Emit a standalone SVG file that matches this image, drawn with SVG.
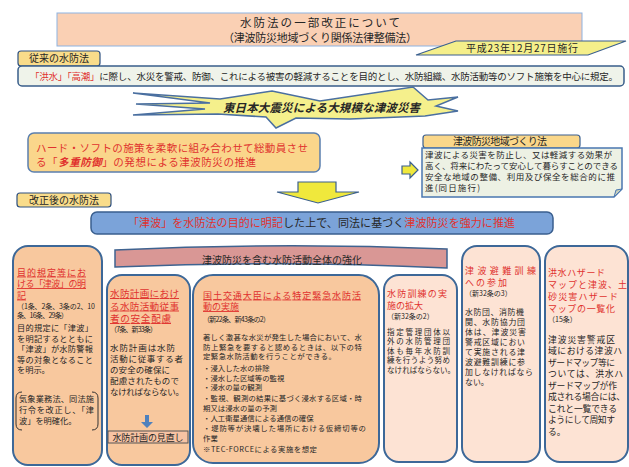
<svg xmlns="http://www.w3.org/2000/svg" width="629" height="467" viewBox="0 0 629 467">
<style>
text { font-family: "Noto Sans CJK JP", "Noto Sans CJK SC", sans-serif; fill: #262626; }
.r { fill: #e0322e; }
.u { text-decoration: underline; }
.f7 { font-size: 7px; }
.tab { fill: #f9dc8a; stroke: #2e5080; stroke-width: 1.2; }
.dk { fill: #f8c89e; stroke: #3d6898; stroke-width: 2; }
.lt { fill: #fde3d4; stroke: #3d6898; stroke-width: 2; }
.yl { fill: #f0e83c; stroke: #3a5f8f; stroke-width: 1.2; }
</style>

<g id="title">
  <rect x="57" y="13" width="525" height="33" fill="#fad0b4" stroke="#8db3e2" stroke-width="1"/>
  <text text-anchor="middle" fill="#404040"><tspan x="320" y="27" font-size="11.5" textLength="160">水防法の一部改正について</tspan><tspan x="320" y="41.5" font-size="11" textLength="194">（津波防災地域づくり関係法律整備法）</tspan></text>
</g>

<g id="date">
  <polygon points="416,55 456,41 626,41 588,55" fill="#f5ef8a" stroke="#3a5f8f" stroke-width="1.2"/>
  <text x="522" y="52" font-size="10" text-anchor="middle" textLength="112">平成23年12月27日施行</text>
</g>

<g id="old-law">
  <rect x="18" y="51" width="82" height="15" rx="3" class="tab"/>
  <text x="59" y="62" font-size="10" text-anchor="middle">従来の水防法</text>
  <rect x="18" y="66" width="606" height="20" rx="4" fill="#eff3ea" stroke="#385d8a" stroke-width="1.5"/>
  <text x="30" y="79.5" font-size="9.5" textLength="588"><tspan class="r">「洪水」「高潮」</tspan>に際し、水災を警戒、防御、これによる被害の軽減することを目的とし、水防組織、水防活動等のソフト施策を中心に規定。</text>
</g>

<g id="disaster">
  <polygon points="133,93 220,99 272,91 320,101 413,87 428,100 458,97 436,106 458,111 425,116 350,119 296,118 276,128 266,117 218,114 133,115 205,109 136,104 210,103" fill="#f5f08c" stroke="#4a6fa0" stroke-width="1.5"/>
  <text x="223" y="111.5" font-size="11.5" font-weight="bold" font-style="italic" textLength="197" fill="#e8141c">東日本大震災による大規模な津波災害</text>
</g>

<g id="multiple-defense">
  <rect x="28" y="133" width="292" height="39" rx="6" fill="#fad68b" stroke="#5b7fae" stroke-width="1.5"/>
  <text font-size="10.5" class="r"><tspan x="36" y="151.5" textLength="272">ハード・ソフトの施策を柔軟に組み合わせて総動員させ</tspan><tspan x="36" y="166" textLength="220">る「<tspan font-weight="bold" font-style="italic">多重防御</tspan>」の発想による津波防災の推進</tspan></text>
</g>

<g id="community-law">
  <rect x="423" y="135" width="157" height="13" rx="3" fill="#fad78a" stroke="#3a5f8f" stroke-width="1.2"/>
  <text x="500" y="145" font-size="10" text-anchor="middle" textLength="94">津波防災地域づくり法</text>
  <path d="M422,148 H622 V189 L614,197 H422 Z" fill="#edf1e4" stroke="#4a77b0" stroke-width="1.5"/>
  <path d="M622,189 L616,190 L614,197 Z" fill="#c8d0bc" stroke="#4a77b0" stroke-width="1"/>
  <text font-size="8.5"><tspan x="425" y="157.5" textLength="187">津波による災害を防止し、又は軽減する効果が</tspan><tspan x="425" y="168.5" textLength="193">高く、将来にわたって安心して暮らすことのできる</tspan><tspan x="425" y="179.5" textLength="190">安全な地域の整備、利用及び保全を総合的に推</tspan><tspan x="425" y="190.5" textLength="55">進(同日施行)</tspan></text>
</g>

<g id="new-law-tab">
  <rect x="17" y="193" width="94" height="14" rx="3" class="tab"/>
  <text x="64" y="204" font-size="10" text-anchor="middle">改正後の水防法</text>
</g>

<g id="purpose">
  <rect x="91" y="212" width="462" height="22" rx="6" fill="#7ba3d9" stroke="#3a5f8f" stroke-width="1.5"/>
  <text x="128" y="227" font-size="11" textLength="387"><tspan class="r">「津波」を水防法の目的に明記</tspan>した上で、同法に基づく<tspan class="r">津波防災を強力に推進</tspan></text>
</g>

<g id="strengthen">
  <path d="M115,250 Q281,242 447,249 L447,268 Q281,260 115,267 Z" fill="#d99795" stroke="#3f6390" stroke-width="1.5"/>
  <text x="202" y="264" font-size="10" textLength="160">津波防災を含む水防活動全体の強化</text>
</g>

<g id="col1">
  <rect x="13" y="246" width="89" height="219" rx="15" class="dk"/>
  <text font-size="9" class="r u"><tspan x="17" y="275.5" textLength="69">目的規定等にお</tspan><tspan x="17" y="287" textLength="69">ける「津波」の明</tspan><tspan x="17" y="298.5">記</tspan></text>
  <text class="f7"><tspan x="17" y="309.2" textLength="78">（1条、2条、3条の2、10</tspan><tspan x="17" y="318.2" textLength="51">条、16条、29条）</tspan></text>
  <text font-size="8.2"><tspan x="17" y="331" textLength="76">目的規定に「津波」</tspan><tspan x="17" y="341.5" textLength="76">を明記するとともに</tspan><tspan x="17" y="352" textLength="76">「津波」が水防警報</tspan><tspan x="17" y="362.5" textLength="76">等の対象となること</tspan><tspan x="17" y="373">を明示。</tspan></text>
  <path d="M22,392 Q16,392 16,398 L16,424 Q16,430 22,430" fill="none" stroke="#333" stroke-width="1"/>
  <path d="M92,392 Q98,392 98,398 L98,424 Q98,430 92,430" fill="none" stroke="#333" stroke-width="1"/>
  <text font-size="8.2"><tspan x="19" y="402" textLength="75">気象業務法、同法施</tspan><tspan x="19" y="413" textLength="75">行令を改正し、「津</tspan><tspan x="19" y="424">波」を明確化。</tspan></text>
</g>

<g id="col2">
  <rect x="107" y="275" width="83" height="190" rx="15" class="dk"/>
  <text font-size="9.6" class="r u"><tspan x="110" y="297" textLength="69">水防計画におけ</tspan><tspan x="110" y="309.5" textLength="69">る水防活動従事</tspan><tspan x="110" y="322" textLength="61">者の安全配慮</tspan></text>
  <text x="110" y="332" class="f7" textLength="47">（7条、新33条）</text>
  <text font-size="8.5"><tspan x="110" y="351.4" textLength="65">水防計画は水防</tspan><tspan x="110" y="362.4" textLength="73">活動に従事する者</tspan><tspan x="110" y="373.4" textLength="60">の安全の確保に</tspan><tspan x="110" y="384.4" textLength="69">配慮されたもので</tspan><tspan x="110" y="395.4" textLength="74">なければならない。</tspan></text>
  <rect x="108" y="431" width="80" height="12" fill="#f7c3a3" stroke="#555" stroke-width="1"/>
  <text x="148" y="440.5" font-size="9" text-anchor="middle" textLength="71">水防計画の見直し</text>
</g>

<g id="col3">
  <rect x="193" y="275" width="186" height="188" rx="20" class="dk"/>
  <text font-size="9" class="r u"><tspan x="203" y="298.5" textLength="158">国土交通大臣による特定緊急水防活</tspan><tspan x="203" y="310">動の実施</tspan></text>
  <text x="203" y="321.5" class="f7" textLength="67">（新22条、新43条の2）</text>
  <text font-size="7.4"><tspan x="203" y="340" textLength="159">著しく激甚な水災が発生した場合において、水</tspan><tspan x="203" y="349.6" textLength="159">防上緊急を要すると認めるときは、以下の特</tspan><tspan x="203" y="359.2" textLength="133">定緊急水防活動を行うことができる。</tspan><tspan x="203" y="371">・浸入した水の排除</tspan><tspan x="203" y="380.6">・浸水した区域等の監視</tspan><tspan x="203" y="390.2">・浸水の量の観測</tspan><tspan x="203" y="401" textLength="159">・監視、観測の結果に基づく浸水する区域・時</tspan><tspan x="203" y="410.6">期又は浸水の量の予測</tspan><tspan x="203" y="421">・人工衛星通信による通信の確保</tspan><tspan x="203" y="431" textLength="163">・堤防等が決壊した場所における仮締切等の</tspan><tspan x="203" y="440.8">作業</tspan><tspan x="203" y="452" textLength="114">※TEC-FORCEによる実施を想定</tspan></text>
</g>

<g id="col4">
  <rect x="384" y="275" width="73" height="187" rx="15" class="lt"/>
  <text font-size="9" class="r"><tspan x="387" y="296.5" textLength="60">水防訓練の実</tspan><tspan x="387" y="308.5">施の拡大</tspan></text>
  <text x="387" y="318.5" class="f7">（新32条の2）</text>
  <text font-size="7.5"><tspan x="387" y="334.5" textLength="63">指定管理団体以</tspan><tspan x="387" y="344" textLength="63">外の水防管理団</tspan><tspan x="387" y="353.5" textLength="63">体も毎年水防訓</tspan><tspan x="387" y="363" textLength="63">練を行うよう努め</tspan><tspan x="387" y="372.5" textLength="68">なければならない。</tspan></text>
</g>

<g id="col5">
  <rect x="462" y="246" width="78" height="216" rx="15" class="lt"/>
  <text font-size="9" class="r"><tspan x="465" y="273.5" textLength="71">津波避難訓練</tspan><tspan x="465" y="285.5" textLength="42">への参加</tspan></text>
  <text x="465" y="295.5" class="f7">（新32条の3）</text>
  <text font-size="7.9"><tspan x="465" y="315.4" textLength="59">水防団、消防機</tspan><tspan x="465" y="325.4" textLength="60">関、水防協力団</tspan><tspan x="465" y="335.4" textLength="61">体は、津波災害</tspan><tspan x="465" y="345.4" textLength="60">警戒区域におい</tspan><tspan x="465" y="355.4" textLength="60">て実施される津</tspan><tspan x="465" y="365.4" textLength="60">波避難訓練に参</tspan><tspan x="465" y="375.4" textLength="68">加しなければなら</tspan><tspan x="465" y="385.4">ない。</tspan></text>
</g>

<g id="col6">
  <rect x="545" y="246" width="83" height="216" rx="15" class="lt"/>
  <text font-size="9" class="r"><tspan x="548" y="275.5" textLength="57">洪水ハザード</tspan><tspan x="548" y="287.5" textLength="79">マップと津波、土</tspan><tspan x="548" y="299.5" textLength="70">砂災害ハザード</tspan><tspan x="548" y="311.5" textLength="67">マップの一覧化</tspan></text>
  <text x="548" y="321.5" class="f7">（15条）</text>
  <text font-size="8.8"><tspan x="548" y="342.5" textLength="67">津波災害警戒区</tspan><tspan x="548" y="354" textLength="74">域における津波ハ</tspan><tspan x="548" y="365.5" textLength="67">ザードマップ等に</tspan><tspan x="548" y="377" textLength="75">ついては、洪水ハ</tspan><tspan x="548" y="388.5" textLength="69">ザードマップが作</tspan><tspan x="548" y="400" textLength="77">成される場合には、</tspan><tspan x="548" y="411.5" textLength="69">これと一覧できる</tspan><tspan x="548" y="423" textLength="67">ようにして周知す</tspan><tspan x="548" y="434.5">る。</tspan></text>
</g>

<g id="connectors">
  <polygon points="298,182 336,182 336,192 359,192 318,203 277,192 298,192" class="yl"/>
  <polygon points="402,166 410,166 410,162 418,170 410,178 410,174 402,174" class="yl"/>
  <polygon points="145,415 149,415 149,422 153,422 147,428 141,422 145,422" fill="#4f81bd"/>
</g>
</svg>
